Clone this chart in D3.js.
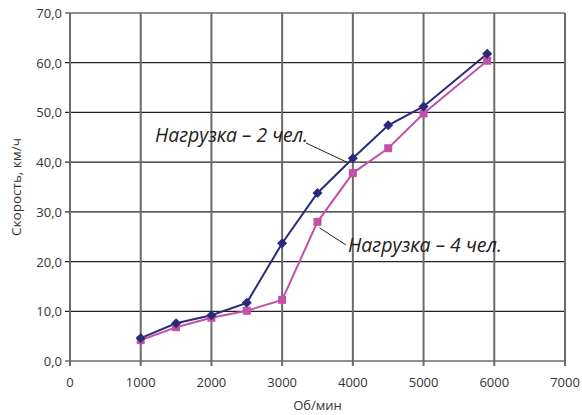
<!DOCTYPE html>
<html><head><meta charset="utf-8">
<script src="https://cdn.jsdelivr.net/npm/d3@7"></script>
<style>body{margin:0;background:#fff}</style>
</head><body>
<svg id="c" width="582" height="415"></svg>
<script>
const rpm = [1000,1500,2000,2500,3000,3500,4000,4500,5000,5900];
const load2 = [4.6,7.6,9.2,11.7,23.7,33.8,40.8,47.4,51.2,61.8];
const load4 = [4.2,6.8,8.7,10.1,12.3,28.0,37.8,42.8,49.8,60.4];
const xTicks = [0,1000,2000,3000,4000,5000,6000,7000];
const yTicks = [0,10,20,30,40,50,60,70];
const seriesNames = ["Нагрузка – 2 чел.","Нагрузка – 4 чел."];
const xTitle = "Об/мин", yTitle = "Скорость, км/ч";

const svg = d3.select("#c");
const m = {l:70, r:17, t:13, b:54};
const W = 582, H = 415;
const x = d3.scaleLinear().domain([0,7000]).range([m.l, W-m.r]);
const y = d3.scaleLinear().domain([0,70]).range([H-m.b, m.t]);
const font = "'Open Sans', 'Noto Sans', sans-serif";

// grid
svg.append("g").selectAll("line").data(yTicks).join("line")
  .attr("x1",x(0)-5).attr("x2",x(7000)).attr("y1",d=>y(d)).attr("y2",d=>y(d))
  .attr("stroke","#222").attr("stroke-width",1.2);
svg.append("g").selectAll("line").data(xTicks).join("line")
  .attr("x1",d=>x(d)).attr("x2",d=>x(d)).attr("y1",y(70)).attr("y2",y(0)+5)
  .attr("stroke","#6a6a6a").attr("stroke-width",2);

// tick labels
svg.append("g").selectAll("text").data(yTicks).join("text")
  .attr("x",x(0)-8).attr("y",d=>y(d)+5).attr("text-anchor","end")
  .attr("font-family",font).attr("font-size",13).attr("fill","#333")
  .text(d=>d3.format(".1f")(d).replace(".",","));
svg.append("g").selectAll("text").data(xTicks).join("text")
  .attr("x",d=>x(d)).attr("y",y(0)+26).attr("text-anchor","middle")
  .attr("font-family",font).attr("font-size",13).attr("fill","#333")
  .text(d=>d);

// axis titles
svg.append("text").attr("x",x(3500)).attr("y",410).attr("text-anchor","middle")
  .attr("font-family",font).attr("font-size",13).attr("fill","#333").text(xTitle);
svg.append("text").attr("transform",`translate(21,${(y(0)+y(70))/2}) rotate(-90)`)
  .attr("text-anchor","middle").attr("font-family",font).attr("font-size",13.5)
  .attr("fill","#333").text(yTitle);

// lines
const line = d3.line().x((d,i)=>x(rpm[i])).y(d=>y(d));
const c2 = "#2b2a78", c4 = "#c351a9";
svg.append("path").attr("d",line(load4)).attr("fill","none").attr("stroke",c4).attr("stroke-width",2);
svg.append("path").attr("d",line(load2)).attr("fill","none").attr("stroke",c2).attr("stroke-width",2);
svg.append("g").selectAll("rect").data(load4).join("rect")
  .attr("x",(d,i)=>x(rpm[i])-4).attr("y",d=>y(d)-4).attr("width",8).attr("height",8).attr("fill",c4);
svg.append("g").selectAll("path").data(load2).join("path")
  .attr("d",d3.symbol(d3.symbolDiamond2,64)())
  .attr("transform",(d,i)=>`translate(${x(rpm[i])},${y(d)})`).attr("fill",c2);

// annotations
function label(txt, tx, ty, len){
  svg.append("text").attr("x",tx).attr("y",ty).attr("font-family",font)
    .attr("font-style","italic").attr("font-size",20).attr("fill","#222")
    .attr("textLength",len).attr("lengthAdjust","spacingAndGlyphs").text(txt);
}
function leader(x1,y1,x2,y2){
  svg.append("line").attr("x1",x1).attr("y1",y1).attr("x2",x2).attr("y2",y2)
    .attr("stroke","#222").attr("stroke-width",1);
}
leader(306,143, x(rpm[6])-6, y(load2[6])+4);
label(seriesNames[0],155,142,153);
leader(x(rpm[5])+2, y(load4[5])+6, 346,245);
label(seriesNames[1],348,252,154);
</script>
</body></html>
